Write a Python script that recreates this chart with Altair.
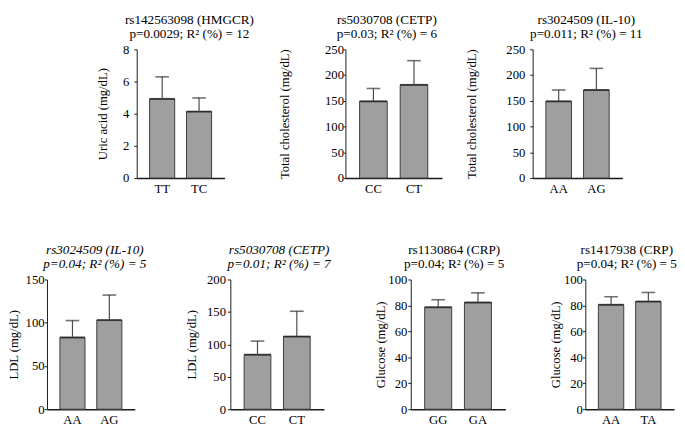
import altair as alt
import pandas as pd

FONT = "Times New Roman, Liberation Serif, serif"

# ---- data ----
GENOTYPES = [["TT", "TC"], ["CC", "CT"], ["AA", "AG"],
             ["AA", "AG"], ["CC", "CT"], ["GG", "GA"], ["AA", "TA"]]
MEANS = [[4.92, 4.13], [149, 181], [149, 171],
         [83, 103], [84, 112], [78.6, 82.2], [80.5, 83.0]]
UPPERS = [[6.29, 4.98], [174, 228], [171, 213],
          [102.5, 132], [105, 151], [84.4, 89.7], [86.7, 90.0]]
Y_TITLES = ["Uric acid (mg/dL)", "Total cholesterol (mg/dL)", "Total cholesterol (mg/dL)",
            "LDL (mg/dL)", "LDL (mg/dL)", "Glucose (mg/dL)", "Glucose (mg/dL)"]
Y_MAX = [8, 250, 250, 150, 200, 100, 100]
Y_TICKS = [[0, 2, 4, 6, 8], [0, 50, 100, 150, 200, 250], [0, 50, 100, 150, 200, 250],
           [0, 50, 100, 150], [0, 50, 100, 150, 200], [0, 20, 40, 60, 80, 100],
           [0, 20, 40, 60, 80, 100]]
TITLE_L1 = ["rs142563098 (HMGCR)", "rs5030708 (CETP)", "rs3024509 (IL-10)",
            "rs3024509 (IL-10)", "rs5030708 (CETP)", "rs1130864 (CRP)", "rs1417938 (CRP)"]
TITLE_L2 = ["p=0.0029; R² (%) = 12", "p=0.03; R² (%) = 6", "p=0.011; R² (%) = 11",
            "p=0.04; R² (%) = 5", "p=0.01; R² (%) = 7", "p=0.04; R² (%) = 5",
            "p=0.04; R² (%) = 5"]
ITALIC_TITLE = [False, False, False, True, True, False, False]

# ---- layout / style (per panel) ----
WIDTHS = [90, 99, 92, 90, 96, 97, 91]
HEIGHTS = [132, 132, 132, 133, 133, 133, 133]
TITLE_OFFSET = [3, 3, 3, 3, 3, 3, 3]
TITLE_DX = [9, -7, 9, 4, 2, -4, -3]
TICK_SIZE = [3, 2, 3, 3, 3, 3, 3]
LABEL_PAD = [5, 0, 5, 0, 2, 1, 0]
EXTENT = [16, 22, 28, 23, 25, 24, 23]
TITLE_PAD = [11.5, 33, 28, 4, 7.5, 0, 0.5]
P_IN, P_OUT = 0.32, 0.35

BAR_FILL = "#9f9f9f"
BAR_STROKE = "#3c3c3c"
ERR_COLOR = "#4a4a4a"


def panel(i):
    df = pd.DataFrame({"genotype": GENOTYPES[i], "mean": MEANS[i], "upper": UPPERS[i]})
    w = WIDTHS[i]
    bw = w / (2 - P_IN + 2 * P_OUT) * (1 - P_IN)
    x = alt.X("genotype:N", sort=GENOTYPES[i], title=None,
              scale=alt.Scale(paddingInner=P_IN, paddingOuter=P_OUT),
              axis=alt.Axis(labelAngle=0, ticks=False, domainWidth=1.6, domainColor="#1a1a1a",
                            labelFont=FONT, labelFontSize=13, labelColor="black",
                            labelPadding=5))
    yscale = alt.Scale(domain=[0, Y_MAX[i]], nice=False)
    yaxis = alt.Axis(values=Y_TICKS[i], grid=False, tickSize=TICK_SIZE[i], tickColor="#1a1a1a",
                     domainColor="#1a1a1a", domainWidth=1,
                     labelPadding=LABEL_PAD[i], minExtent=EXTENT[i], maxExtent=EXTENT[i],
                     titlePadding=TITLE_PAD[i], labelFont=FONT, labelFontSize=13,
                     labelColor="black", titleFont=FONT, titleFontSize=13,
                     titleFontWeight="normal", titleColor="black")

    def Y(field):
        return alt.Y(f"{field}:Q", scale=yscale, axis=yaxis, title=Y_TITLES[i])

    base = alt.Chart(df).encode(x=x)
    bars = base.mark_bar(fill=BAR_FILL, stroke=BAR_STROKE, strokeWidth=1).encode(y=Y("mean"))
    top = base.mark_tick(color="#1e1e1e", thickness=2, size=bw).encode(y=Y("mean"))
    rule = base.mark_rule(color=ERR_COLOR, strokeWidth=1.2).encode(y=Y("mean"), y2="upper:Q")
    cap = base.mark_tick(color="#333333", thickness=1.6, size=14).encode(y=Y("upper"))

    style = "italic" if ITALIC_TITLE[i] else "normal"
    title = alt.Title(text=[TITLE_L1[i], TITLE_L2[i]], font=FONT, fontSize=13.5,
                      lineHeight=14.5, fontWeight="normal", fontStyle=style,
                      color="black", anchor="middle", offset=TITLE_OFFSET[i],
                      dx=TITLE_DX[i])
    return alt.layer(bars, top, rule, cap).properties(width=w, height=HEIGHTS[i], title=title)


spacer = alt.Chart(pd.DataFrame({"v": [""]})).mark_text().encode(
    text="v:N").properties(width=51, height=10)

top_row = alt.hconcat(
    alt.hconcat(alt.hconcat(spacer, panel(0), spacing=0), panel(1), spacing=25),
    panel(2), spacing=24)
bottom_row = alt.hconcat(
    alt.hconcat(alt.hconcat(panel(3), panel(4), spacing=40), panel(5), spacing=45),
    panel(6), spacing=45)

chart = alt.vconcat(top_row, bottom_row, spacing=49, center=False).properties(
    padding={"left": 0, "top": 0, "right": 0, "bottom": 0}
).configure_view(stroke=None)

chart.save("out.html", embed_options={"renderer": "svg", "actions": False})
